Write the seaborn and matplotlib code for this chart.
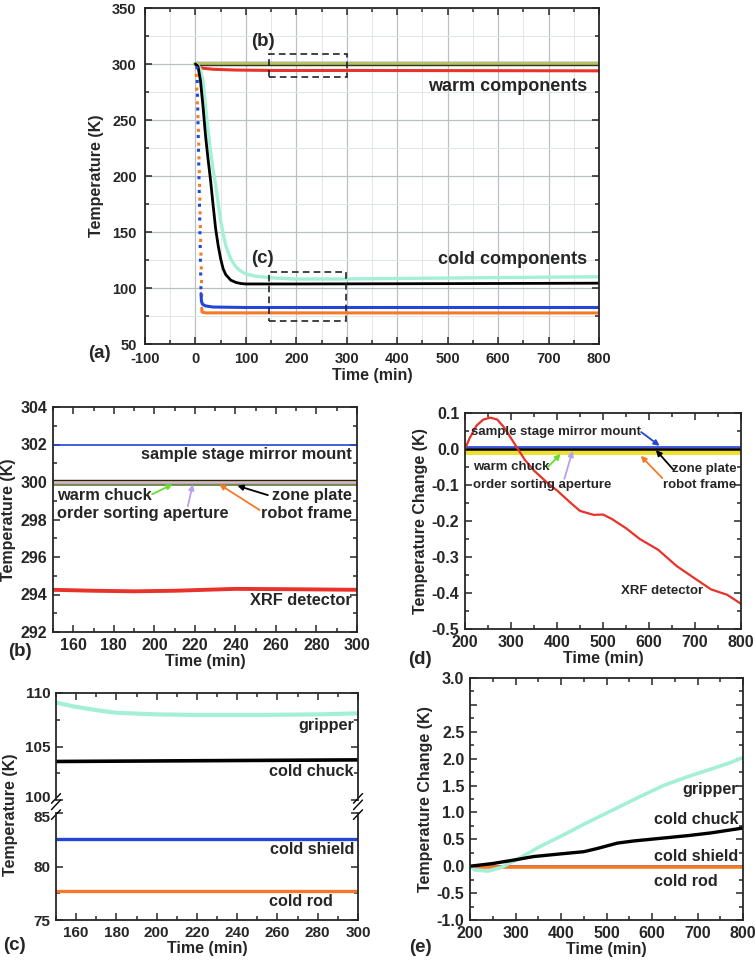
import numpy as np
import pandas as pd
import seaborn as sns
import matplotlib.pyplot as plt
import matplotlib.transforms as mtrans
from matplotlib.ticker import MultipleLocator, FixedLocator, FixedFormatter
from matplotlib.patches import Rectangle

W, H = 756, 960

# ---------------- data ----------------
# (a) whole cooldown, 0-800 min
a_flat_t = [0, 800]
a_mirror_T = [302.0, 302.0]
a_band_T = [300.0, 300.0]
a_zone_T = [299.2, 299.2]
a_xrf_t = [0, 5, 15, 35, 80, 150, 200, 300, 500, 800]
a_xrf_T = [300, 297.5, 296.2, 295.3, 294.6, 294.25, 294.2, 294.25, 294.1, 293.9]
a_gripper_t = [0, 5, 10, 15, 20, 25, 30, 35, 40, 45, 50, 55, 60, 70, 80, 90, 100,
               120, 150, 200, 300, 400, 500, 600, 700, 800]
a_gripper_T = [300, 299, 295, 285, 262, 241, 222, 205, 192, 176, 160, 148, 138, 126,
               119, 115, 112.5, 110.5, 109.1, 108.0, 108.1, 108.5, 108.9, 109.3, 109.7, 110.0]
a_chuck_t = [0, 5, 10, 15, 20, 25, 30, 35, 40, 45, 50, 55, 60, 70, 80, 90, 100, 200, 500, 800]
a_chuck_T = [300, 298, 285, 262, 236, 215, 196, 174, 153, 138, 126, 117, 112, 107, 105,
             104, 103.6, 103.6, 103.9, 104.3]
a_shield_drop_t = [3, 7, 11]
a_shield_drop_T = [298, 200, 96]
a_shield_t = [11, 12, 14, 20, 35, 100, 800]
a_shield_T = [95, 88, 85.5, 84, 83, 82.6, 82.6]
a_rod_drop_t = [1, 6, 10, 13]
a_rod_drop_T = [298, 240, 150, 83]
a_rod_t = [12.5, 13, 20, 800]
a_rod_T = [82, 78.5, 77.8, 77.7]
box_b = (145, 288.5, 155, 20.5)
box_c = (145, 70.5, 153, 43.5)

# (b) warm components, 150-300 min
b_t = [150, 300]
b_mirror = [302.0, 302.0]
b_zone = [300.12, 300.12]
b_robot = [300.0, 300.0]
b_osa = [299.95, 299.95]
b_chuck = [299.86, 299.86]
b_xrf_t = [150, 170, 190, 210, 240, 270, 300]
b_xrf = [294.25, 294.2, 294.17, 294.2, 294.3, 294.28, 294.25]

# (c) cold components, 150-300 min
c_t = [150, 300]
c_gripper_t = [150, 160, 170, 180, 200, 220, 250, 280, 300]
c_gripper = [109.1, 108.7, 108.4, 108.15, 108.0, 107.95, 107.95, 108.0, 108.1]
c_chuck = [103.6, 103.75]
c_shield = [82.6, 82.6]
c_rod = [77.7, 77.7]
c_top_ticks = [100, 105, 110]
c_bot_ticks = [75, 80, 85]

# (d) warm components, change after 200 min
d_t = [200, 800]
d_xrf_t = [200, 210, 225, 240, 255, 270, 285, 300, 315, 330, 350, 380, 400, 430, 450,
           480, 500, 520, 550, 580, 620, 660, 700, 735, 770, 800]
d_xrf = [0.0, 0.03, 0.065, 0.082, 0.087, 0.082, 0.06, 0.03, 0.0, -0.03, -0.06, -0.095,
         -0.115, -0.15, -0.172, -0.183, -0.182, -0.195, -0.22, -0.25, -0.28, -0.325,
         -0.36, -0.39, -0.405, -0.43]
d_mirror = [0.005, 0.005]
d_osa = [0.003, 0.003]
d_zone = [0.0, 0.0]
d_robot = [-0.008, -0.008]
d_chuck = [0.002, 0.002]

# (e) cold components, change after 200 min
e_t = [200, 800]
e_gripper_t = [200, 210, 240, 270, 290, 305, 350, 405, 450, 515, 570, 625, 680, 735, 770, 800]
e_gripper = [0.0, -0.07, -0.09, -0.02, 0.07, 0.13, 0.35, 0.58, 0.78, 1.05, 1.28, 1.5,
             1.67, 1.82, 1.92, 2.02]
e_chuck_t = [200, 250, 300, 340, 400, 450, 480, 524, 560, 620, 680, 730, 800]
e_chuck = [0.0, 0.05, 0.12, 0.18, 0.23, 0.27, 0.33, 0.43, 0.47, 0.52, 0.57, 0.62, 0.71]
e_shield = [0.0, 0.0]
e_rod = [-0.02, -0.02]
e_ticks = [-1.0, -0.5, 0.0, 0.5, 1.0, 1.5, 2.0, 2.5, 3.0, 3.5]
e_ticklabels = ['-1.0', '-0.5', '0.0', '0.5', '1.0', '1.5', '2.0', '2.5', '', '3.0']

# colours
BLUE = '#2446d6'
RED = '#e8322a'
ORANGE = '#f47a2a'
AQUA = '#a4f0d6'
GREEN = '#66dd33'
PURPLE = '#b8a0f0'
YELLOW = '#eee030'
TAN = '#e6c890'
OLIVE = '#b8c060'

sns.set_style("ticks")
plt.rcParams['font.family'] = ['Liberation Sans', 'DejaVu Sans']
plt.rcParams['font.weight'] = 'bold'
plt.rcParams['axes.labelweight'] = 'bold'
plt.rcParams['axes.unicode_minus'] = False

TICK = 11.5
LAB = 11.5
PANEL = 13.5


def rect(l, t, r, b):
    return [l / W, 1 - b / H, (r - l) / W, (b - t) / H]


def style(ax, xmaj, xmin, ymaj, ymin, fs=TICK, pad=4):
    ax.xaxis.set_major_locator(MultipleLocator(xmaj))
    ax.xaxis.set_minor_locator(MultipleLocator(xmin))
    ax.yaxis.set_major_locator(MultipleLocator(ymaj))
    ax.yaxis.set_minor_locator(MultipleLocator(ymin))
    ax.tick_params(which='both', direction='in', top=True, right=True,
                   labelsize=fs, width=1.1, pad=pad)
    ax.tick_params(which='major', length=5)
    ax.tick_params(which='minor', length=3)
    for s in ax.spines.values():
        s.set_linewidth(1.3)


def line(ax, x, y, color, lw, **kw):
    sns.lineplot(x=x, y=y, ax=ax, color=color, lw=lw, sort=False, legend=False, **kw)


def arrow(ax, start, end, color):
    ax.annotate('', xy=end, xytext=start,
                arrowprops=dict(arrowstyle='-|>', color=color, lw=1.3, mutation_scale=8,
                                shrinkA=0, shrinkB=0))


fig = plt.figure(figsize=(7.56, 9.6), dpi=100)

# ---------------- (a) ----------------
ax = fig.add_axes(rect(145, 8, 599, 344))
style(ax, 100, 50, 50, 25, fs=10.5, pad=6)
ax.grid(which='major', color='#b9c1c5', lw=0.9)
ax.grid(which='minor', color='#e0e6e9', lw=0.7)
ax.set_axisbelow(True)
line(ax, a_flat_t, a_mirror_T, BLUE, 1.0)
line(ax, a_flat_t, a_band_T, OLIVE, 3.0)
line(ax, a_flat_t, a_zone_T, '#303820', 1.0)
line(ax, a_xrf_t, a_xrf_T, RED, 2.2)
line(ax, a_gripper_t, a_gripper_T, AQUA, 2.4)
line(ax, a_chuck_t, a_chuck_T, 'black', 2.0)
line(ax, a_shield_drop_t, a_shield_drop_T, BLUE, 2.2, linestyle=(0, (1, 3.5)))
line(ax, a_rod_drop_t, a_rod_drop_T, ORANGE, 2.2, linestyle=(2, (1, 3.5)))
line(ax, a_shield_t, a_shield_T, BLUE, 2.2)
line(ax, a_rod_t, a_rod_T, ORANGE, 2.2)
for bx in (box_b, box_c):
    ax.add_patch(Rectangle(bx[:2], bx[2], bx[3], fill=False, ec='#222222', lw=1.2,
                           ls=(0, (4, 2.5)), zorder=5))
ax.text(134, 320, '(b)', fontsize=PANEL, ha='center', va='center')
ax.text(132, 126, '(c)', fontsize=PANEL, ha='center', va='center')
ax.text(776, 279.5, 'warm components', fontsize=13, ha='right', va='center')
ax.text(776, 125, 'cold components', fontsize=13, ha='right', va='center')
ax.set_xlim(-100, 800)
ax.set_ylim(50, 350)
ax.set_xlabel('Time (min)', fontsize=LAB, labelpad=1)
ax.set_ylabel('Temperature (K)', fontsize=LAB, labelpad=6)
fig.text(99 / W, 1 - 353 / H, '(a)', fontsize=PANEL, ha='center', va='center')

# ---------------- (b) ----------------
ax = fig.add_axes(rect(53, 407, 357, 632))
style(ax, 20, 10, 2, 1)
line(ax, b_t, b_mirror, BLUE, 1.2)
line(ax, b_t, b_robot, TAN, 3.0)
line(ax, b_t, b_osa, PURPLE, 1.0)
line(ax, b_t, b_chuck, '#5a7a30', 1.2)
line(ax, b_t, b_zone, '#222222', 1.0)
line(ax, b_xrf_t, b_xrf, RED, 2.8)
fs_b = 11.8
ax.text(297.5, 301.45, 'sample stage mirror mount', fontsize=fs_b, ha='right', va='center')
ax.text(152, 299.28, 'warm chuck', fontsize=fs_b, ha='left', va='center')
ax.text(152, 298.3, 'order sorting aperture', fontsize=fs_b, ha='left', va='center')
ax.text(297.5, 299.28, 'zone plate', fontsize=fs_b, ha='right', va='center')
ax.text(297.5, 298.3, 'robot frame', fontsize=fs_b, ha='right', va='center')
ax.text(297.5, 293.7, 'XRF detector', fontsize=fs_b, ha='right', va='center')
arrow(ax, (199, 299.35), (209, 299.88), GREEN)
arrow(ax, (216.5, 298.7), (219, 299.88), PURPLE)
arrow(ax, (252, 298.5), (232, 299.88), ORANGE)
arrow(ax, (256, 299.3), (241, 299.8), 'black')
ax.set_xlim(150, 300)
ax.set_ylim(292, 304)
ax.set_xlabel('Time (min)', fontsize=LAB, labelpad=1)
ax.set_ylabel('Temperature (K)', fontsize=LAB, labelpad=3)
fig.text(20 / W, 1 - 652 / H, '(b)', fontsize=PANEL, ha='center', va='center')

# ---------------- (c) broken axis ----------------
axt = fig.add_axes(rect(56, 693, 358, 800))
axb = fig.add_axes(rect(56, 813, 358, 920))
for a_ in (axt, axb):
    style(a_, 20, 10, 5, 2.5, fs=11)
    a_.set_xlim(150, 300)
axt.spines['bottom'].set_visible(False)
axb.spines['top'].set_visible(False)
axt.tick_params(which='both', bottom=False, labelbottom=False)
axb.tick_params(which='both', top=False)
line(axt, c_gripper_t, c_gripper, AQUA, 3.0)
line(axt, c_t, c_chuck, 'black', 2.6)
line(axb, c_t, c_shield, BLUE, 2.4)
line(axb, c_t, c_rod, ORANGE, 2.4)
axt.set_ylim(100, 110)
axb.set_ylim(75, 85)
axt.set_yticks(c_top_ticks, labels=[str(v) for v in c_top_ticks])
axb.set_yticks(c_bot_ticks, labels=[str(v) for v in c_bot_ticks])
# keep "100" and "85" apart at the break
up = mtrans.ScaledTranslation(0, 2.5 / 72, fig.dpi_scale_trans)
down = mtrans.ScaledTranslation(0, -2.5 / 72, fig.dpi_scale_trans)
lab100 = axt.get_yticklabels()[0]
lab100.set_transform(lab100.get_transform() + up)
lab85 = axb.get_yticklabels()[-1]
lab85.set_transform(lab85.get_transform() + down)
fs_c = 11.7
axt.text(298, 107.0, 'gripper', fontsize=fs_c, ha='right', va='center')
axt.text(298, 102.65, 'cold chuck', fontsize=fs_c, ha='right', va='center')
axb.text(298, 81.55, 'cold shield', fontsize=fs_c, ha='right', va='center')
axb.text(256, 76.7, 'cold rod', fontsize=fs_c, ha='left', va='center')
kw = dict(color='black', lw=1.0, clip_on=False)
for xx in (0, 1):
    axt.plot([xx - 0.015, xx + 0.015], [-0.09, 0.0], transform=axt.transAxes, **kw)
    axt.plot([xx - 0.015, xx + 0.015], [-0.03, 0.06], transform=axt.transAxes, **kw)
    axb.plot([xx - 0.015, xx + 0.015], [0.94, 1.03], transform=axb.transAxes, **kw)
axb.set_xlabel('Time (min)', fontsize=LAB, labelpad=1)
fig.text(11 / W, 1 - 815 / H, 'Temperature (K)', fontsize=LAB, rotation=90,
         ha='center', va='center')
fig.text(14 / W, 1 - 945 / H, '(c)', fontsize=PANEL, ha='center', va='center')

# ---------------- (d) ----------------
ax = fig.add_axes(rect(465, 413, 741, 629))
style(ax, 100, 50, 0.1, 0.05)
line(ax, d_t, d_robot, YELLOW, 3.5)
line(ax, d_t, d_chuck, GREEN, 1.2)
line(ax, d_t, d_osa, PURPLE, 1.5)
line(ax, d_t, d_mirror, BLUE, 1.2)
line(ax, d_t, d_zone, 'black', 1.8)
line(ax, d_xrf_t, d_xrf, RED, 1.6)
ax.yaxis.set_major_formatter(plt.FuncFormatter(lambda v, p: '%.1f' % v))
fs_d = 9.5
ax.text(213, 0.048, 'sample stage mirror mount', fontsize=fs_d, ha='left', va='center')
ax.text(217, -0.05, 'warm chuck', fontsize=fs_d, ha='left', va='center')
ax.text(217, -0.1, 'order sorting aperture', fontsize=fs_d, ha='left', va='center')
ax.text(790, -0.056, 'zone plate', fontsize=fs_d, ha='right', va='center')
ax.text(790, -0.1, 'robot frame', fontsize=fs_d, ha='right', va='center')
ax.text(628, -0.395, 'XRF detector', fontsize=fs_d, ha='center', va='center')
arrow(ax, (583, 0.047), (623, 0.009), BLUE)
arrow(ax, (380, -0.05), (408, -0.014), GREEN)
arrow(ax, (416, -0.083), (434, -0.005), PURPLE)
arrow(ax, (629, -0.081), (582, -0.019), ORANGE)
arrow(ax, (652, -0.056), (615, -0.003), 'black')
ax.set_xlim(200, 800)
ax.set_ylim(-0.5, 0.1)
ax.set_xlabel('Time (min)', fontsize=LAB, labelpad=1)
ax.set_ylabel('Temperature Change (K)', fontsize=LAB, labelpad=3)
fig.text(420 / W, 1 - 660 / H, '(d)', fontsize=PANEL, ha='center', va='center')

# ---------------- (e) ----------------
ax = fig.add_axes(rect(470, 678, 743, 920))
style(ax, 100, 50, 0.5, 0.25)
line(ax, e_t, e_shield, BLUE, 2.0)
line(ax, e_t, e_rod, ORANGE, 2.6)
line(ax, e_gripper_t, e_gripper, AQUA, 2.6)
line(ax, e_chuck_t, e_chuck, 'black', 2.4)
ax.set_xlim(200, 800)
ax.set_ylim(-1.0, 3.5)
ax.yaxis.set_major_locator(FixedLocator(e_ticks))
ax.yaxis.set_major_formatter(FixedFormatter(e_ticklabels))
fs_e = 11.6
ax.text(789, 1.42, 'gripper', fontsize=fs_e, ha='right', va='center')
ax.text(605, 0.86, 'cold chuck', fontsize=fs_e, ha='left', va='center')
ax.text(605, 0.18, 'cold shield', fontsize=fs_e, ha='left', va='center')
ax.text(605, -0.28, 'cold rod', fontsize=fs_e, ha='left', va='center')
ax.set_xlabel('Time (min)', fontsize=LAB, labelpad=1)
ax.set_ylabel('Temperature Change (K)', fontsize=LAB, labelpad=3)
fig.text(420 / W, 1 - 947 / H, '(e)', fontsize=PANEL, ha='center', va='center')

fig.savefig('out.png', dpi=100)
